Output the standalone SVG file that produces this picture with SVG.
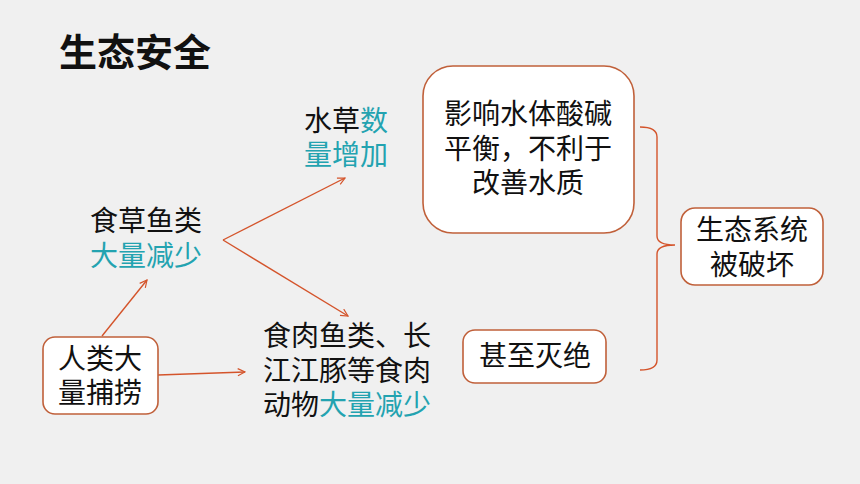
<svg xmlns="http://www.w3.org/2000/svg" width="860" height="484" viewBox="0 0 860 484">
<defs>
<style>
.t{font-family:"Noto Sans CJK SC","Noto Sans",sans-serif;font-size:28px;fill:#111;}
.c{fill:#23a3b0;}
.box{fill:#fff;stroke:#c0603a;stroke-width:1.6;}
.ln{stroke:#d4542b;stroke-width:1.4;fill:none;}
</style>
<marker id="ah" viewBox="0 0 10 10" refX="9" refY="5" markerWidth="9" markerHeight="9" markerUnits="userSpaceOnUse" orient="auto">
<path d="M1,1 L9,5 L1,9" fill="none" stroke="#d4542b" stroke-width="1.3"/>
</marker>
</defs>
<rect width="860" height="484" fill="#f0f0f0"/>
<text x="59" y="66" style="font-family:'Noto Sans CJK SC',sans-serif;font-size:38px;font-weight:bold;fill:#111;">生态安全</text>

<g id="connectors">
<line class="ln" x1="102" y1="336" x2="147" y2="280" marker-end="url(#ah)"/>
<line class="ln" x1="158" y1="375" x2="245" y2="372" marker-end="url(#ah)"/>
<line class="ln" x1="223" y1="240" x2="345" y2="178" marker-end="url(#ah)"/>
<line class="ln" x1="223" y1="240" x2="348" y2="316" marker-end="url(#ah)"/>
<path class="ln" d="M640,127 Q657,127 657,137 L657,236 Q657,245 675,245 Q657,245 657,254 L657,360 Q657,370 640,370"/>
</g>

<g id="n-shuicao">
<text class="t" x="304" y="131">水草<tspan class="c">数</tspan><tspan class="c" x="304" dy="34">量增加</tspan></text>
</g>

<g id="n-shicaoyu">
<text class="t" x="90" y="231">食草鱼类<tspan class="c" x="90" dy="35">大量减少</tspan></text>
</g>

<g id="n-renlei">
<rect class="box" x="43" y="337" width="115" height="77" rx="12"/>
<text class="t" x="100" y="369" text-anchor="middle">人类大<tspan x="100" dy="34">量捕捞</tspan></text>
</g>

<g id="n-shirouyu">
<text class="t" x="263" y="346">食肉鱼类、长<tspan x="263" dy="35">江江豚等食肉</tspan><tspan x="263" dy="34">动物</tspan><tspan class="c">大量减少</tspan></text>
</g>

<g id="n-yingxiang">
<rect class="box" x="423" y="66" width="211" height="167" rx="30"/>
<text class="t" x="528" y="124" text-anchor="middle">影响水体酸碱<tspan x="528" dy="35">平衡，不利于</tspan><tspan x="528" dy="34">改善水质</tspan></text>
</g>

<g id="n-miejue">
<rect class="box" x="463" y="330" width="143" height="53" rx="12"/>
<text class="t" x="535" y="366" text-anchor="middle">甚至灭绝</text>
</g>

<g id="n-pohuai">
<rect class="box" x="681" y="208" width="142" height="77" rx="14"/>
<text class="t" x="752" y="240" text-anchor="middle">生态系统<tspan x="752" dy="35">被破坏</tspan></text>
</g>
</svg>
